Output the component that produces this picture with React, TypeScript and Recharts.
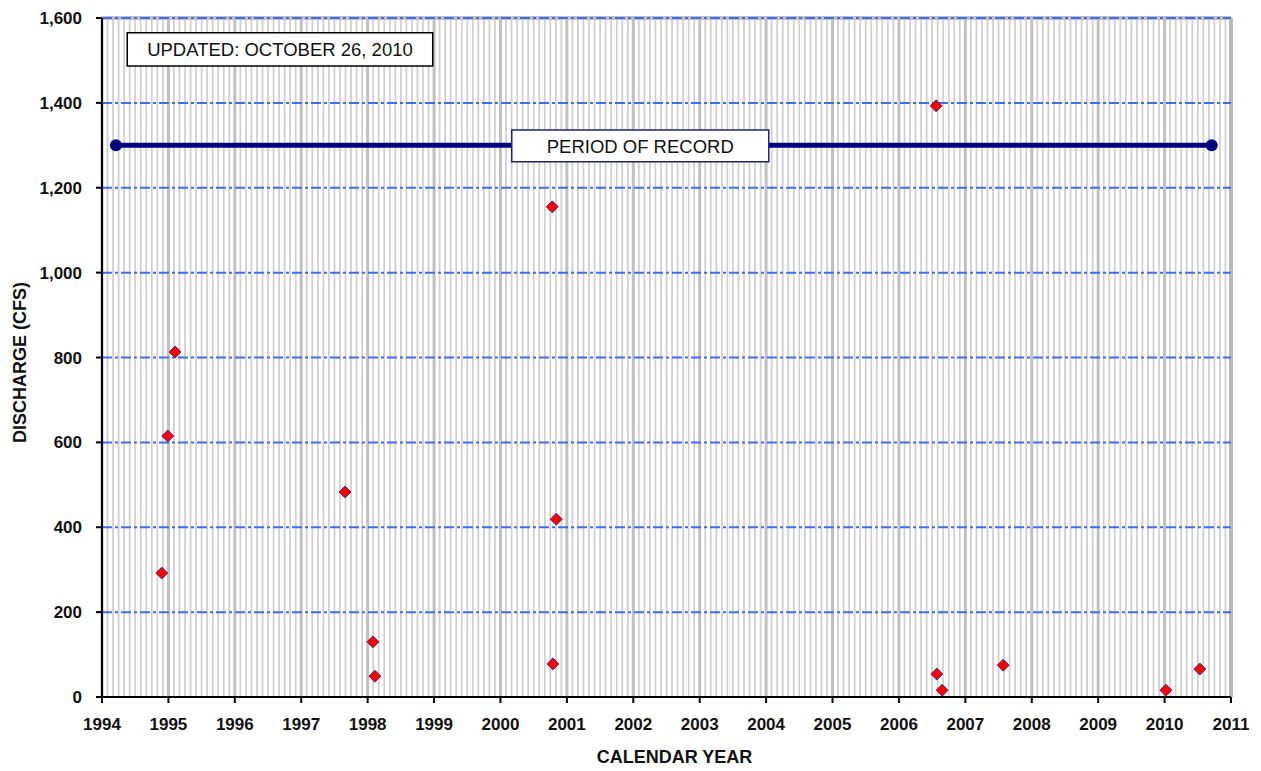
import {
  ScatterChart,
  Scatter,
  XAxis,
  YAxis,
  ReferenceLine,
  ReferenceArea,
} from "recharts";

// decimal year of each measurement, and discharge in cfs
const sampleDates = [
  1994.9, 1994.99, 1995.1, 1997.66, 1998.08, 1998.11, 2000.78, 2000.84, 2000.79,
  2006.56, 2006.57, 2006.65, 2007.57, 2010.02, 2010.53,
];
const discharge = [292, 615, 813, 483, 130, 49, 1155, 419, 78, 1393, 54, 16, 75, 16, 66];

const recordStart = 1994.21;
const recordEnd = 2010.71;
const recordLevel = 1300;

const yearTicks = [
  1994, 1995, 1996, 1997, 1998, 1999, 2000, 2001, 2002, 2003, 2004, 2005, 2006,
  2007, 2008, 2009, 2010, 2011,
];
const dischargeTicks = [0, 200, 400, 600, 800, 1000, 1200, 1400, 1600];

const points = sampleDates.map((x, i) => ({ x, y: discharge[i] }));
const period = [
  { x: recordStart, y: recordLevel },
  { x: recordEnd, y: recordLevel },
];
const monthLines: number[] = [];
yearTicks.slice(0, -1).forEach((yr) => {
  for (let m = 1; m < 12; m++) monthLines.push(yr + m / 12);
});

const font = "'Liberation Sans', Arial, sans-serif";

const Diamond = (props: any) => {
  const { cx, cy } = props;
  const r = 6;
  return (
    <polygon
      points={`${cx},${cy - r} ${cx + r},${cy} ${cx},${cy + r} ${cx - r},${cy}`}
      fill="#ff0000"
      stroke="#4b2d8c"
      strokeWidth={1}
    />
  );
};

const EndDot = (props: any) => <circle cx={props.cx} cy={props.cy} r={6} fill="#000080" />;

const YTitle = (props: any) => {
  const vb = props.viewBox;
  const x = 20;
  const y = vb.y + vb.height / 2 + 5;
  return (
    <text
      x={x}
      y={y}
      transform={`rotate(-90 ${x} ${y})`}
      textAnchor="middle"
      dominantBaseline="central"
      fontFamily={font}
      fontWeight="bold"
      fontSize={18}
      fill="#111"
    >
      DISCHARGE (CFS)
    </text>
  );
};

export default function App() {
  return (
    <div style={{ position: "absolute", left: 0, top: 0, background: "#fff" }}>
      <ScatterChart
        width={1261}
        height={771}
        margin={{ top: 18, right: 30, left: 42, bottom: 34 }}
      >
        {monthLines.map((m) => (
          <ReferenceLine key={"m" + m} x={m} stroke="#d0d0d0" strokeWidth={1.8} />
        ))}
        {yearTicks.map((yr) => (
          <ReferenceLine key={"y" + yr} x={yr} stroke="#c0c0c0" strokeWidth={3} />
        ))}
        <ReferenceLine x={2011} stroke="#b8b8b8" strokeWidth={4} />
        <ReferenceLine y={1600} stroke="#c0c0c0" strokeWidth={4} />
        {dischargeTicks.slice(1).map((v) => (
          <ReferenceLine
            key={"h" + v}
            y={v}
            stroke="#3d6cf5"
            strokeWidth={2}
            strokeDasharray="10 3 3 3"
          />
        ))}
        <XAxis
          type="number"
          dataKey="x"
          domain={[1994, 2011]}
          ticks={yearTicks}
          interval={0}
          allowDataOverflow
          height={40}
          axisLine={{ stroke: "#000", strokeWidth: 2 }}
          tickLine={{ stroke: "#000", strokeWidth: 2 }}
          tickSize={6}
          tickMargin={15}
          tick={{ fontFamily: font, fontWeight: "bold", fontSize: 17, fill: "#111" }}
          label={{
            value: "CALENDAR YEAR",
            position: "bottom",
            offset: 13,
            dx: 8,
            fontFamily: font,
            fontWeight: "bold",
            fontSize: 18,
            fill: "#111",
          }}
        />
        <YAxis
          type="number"
          dataKey="y"
          domain={[0, 1600]}
          ticks={dischargeTicks}
          interval={0}
          allowDataOverflow
          width={60}
          axisLine={{ stroke: "#000", strokeWidth: 2 }}
          tickLine={{ stroke: "#000", strokeWidth: 2 }}
          tickSize={6}
          tickMargin={14}
          tickFormatter={(v: number) => v.toLocaleString("en-US")}
          tick={{ fontFamily: font, fontWeight: "bold", fontSize: 17, fill: "#111" }}
          label={<YTitle />}
        />
        <Scatter
          data={period}
          line={{ stroke: "#000080", strokeWidth: 5 }}
          lineType="joint"
          shape={<EndDot />}
          isAnimationActive={false}
        />
        <Scatter data={points} shape={<Diamond />} isAnimationActive={false} />
        <ReferenceArea
          x1={1994.38}
          x2={1998.98}
          y1={1487}
          y2={1565}
          fill="#fff"
          fillOpacity={1}
          stroke="#000"
          strokeWidth={1.5}
          zIndex={700}
          label={{
            value: "UPDATED:  OCTOBER  26, 2010",
            position: "center",
            fontFamily: font,
            fontSize: 18.5,
            fill: "#111",
          }}
        />
        <ReferenceArea
          x1={2000.17}
          x2={2004.04}
          y1={1261}
          y2={1336}
          fill="#fff"
          fillOpacity={1}
          stroke="#202080"
          strokeWidth={1.5}
          zIndex={700}
          label={{
            value: "PERIOD OF RECORD",
            position: "center",
            fontFamily: font,
            fontSize: 18.5,
            fill: "#111",
          }}
        />
      </ScatterChart>
    </div>
  );
}
